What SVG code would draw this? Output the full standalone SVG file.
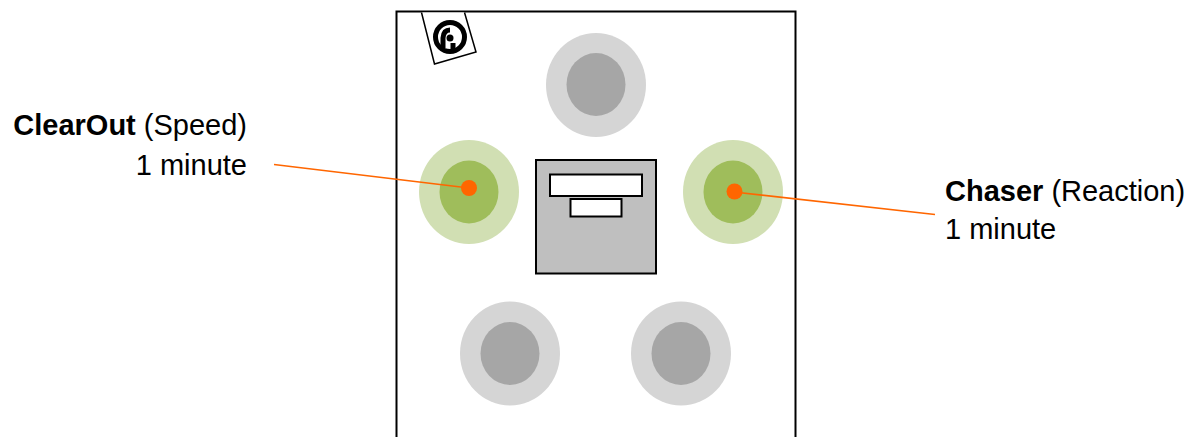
<svg xmlns="http://www.w3.org/2000/svg" width="1196" height="437" viewBox="0 0 1196 437">
<style>
.t{font-family:"Liberation Sans",Arial,sans-serif;font-size:29px;fill:#000}
.b{font-weight:bold}
.go{fill:#d5d5d5}.gi{fill:#a6a6a6}
.lo{fill:#d1dfb3}.li{fill:#9fbd5b}
.dot{fill:#ff6600}
.s{stroke:#000;stroke-width:2;stroke-linejoin:miter}
.c{stroke:#ff6600;stroke-width:1.7;fill:none}
</style>
<rect width="1196" height="437" fill="#fff"/>
<g id="panel"><path d="M396.500 437V11.500H795.500V437" fill="none" stroke="#000" stroke-width="2"/></g>
<g id="logo">
<path d="M421.500 12.500L434.500 64L476 52L464.500 12.500" fill="#fff" stroke="#000" stroke-width="1.500"/>
<circle cx="450" cy="37" r="14.500" fill="none" stroke="#000" stroke-width="5"/>
<path d="M443 48V38Q443.500 30 450 30" fill="none" stroke="#000" stroke-width="5"/>
<circle cx="450" cy="38" r="3.500" fill="#000"/>
<path d="M453 43V51" stroke="#000" stroke-width="5" fill="none"/>
</g>
<g id="button-top"><ellipse class="go" cx="596" cy="85" rx="50" ry="52"/><ellipse class="gi" cx="596" cy="84.500" rx="29.500" ry="31.500"/></g>
<g id="button-left"><ellipse class="lo" cx="469" cy="192" rx="50" ry="52"/><ellipse class="li" cx="469" cy="192" rx="29.500" ry="31.500"/></g>
<g id="button-right"><ellipse class="lo" cx="733" cy="192" rx="50" ry="52"/><ellipse class="li" cx="733" cy="192" rx="29.500" ry="31.500"/></g>
<g id="button-bottom-left"><ellipse class="go" cx="510" cy="353.500" rx="50" ry="52"/><ellipse class="gi" cx="510" cy="353.500" rx="29.500" ry="31.500"/></g>
<g id="button-bottom-right"><ellipse class="go" cx="681" cy="353.500" rx="50" ry="52"/><ellipse class="gi" cx="681" cy="353.500" rx="29.500" ry="31.500"/></g>
<g id="display">
<rect class="s" x="536" y="160" width="120" height="113.500" fill="#bfbfbf"/>
<rect class="s" x="550" y="174.500" width="92" height="21.500" fill="#fff"/>
<rect class="s" x="570.500" y="199" width="51" height="17.500" fill="#fff"/>
</g>
<g id="connectors">
<line class="c" x1="274" y1="164.500" x2="469" y2="188"/>
<line class="c" x1="734" y1="192" x2="935" y2="214.500"/>
</g>
<g id="markers">
<circle class="dot" cx="469" cy="188" r="8"/>
<circle class="dot" cx="734.500" cy="191.500" r="8"/>
</g>
<g id="label-clearout">
<text class="t" x="247" y="135" text-anchor="end"><tspan class="b">ClearOut</tspan> (Speed)</text>
<text class="t" x="247" y="175" text-anchor="end">1 minute</text>
</g>
<g id="label-chaser">
<text class="t" x="945" y="201"><tspan class="b">Chaser</tspan> (Reaction)</text>
<text class="t" x="945" y="239">1 minute</text>
</g>
</svg>
